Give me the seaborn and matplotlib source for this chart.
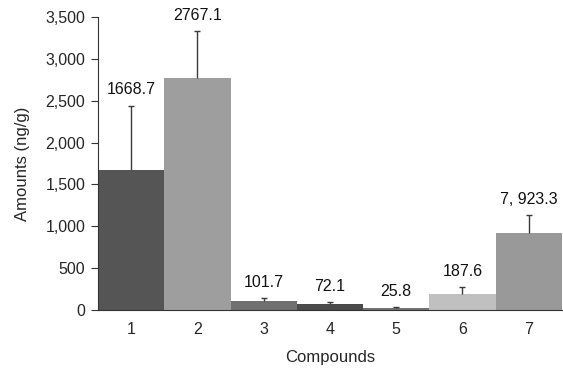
import seaborn as sns
import matplotlib.pyplot as plt
import matplotlib.ticker as mticker
import pandas as pd
import numpy as np

compounds = ['1', '2', '3', '4', '5', '6', '7']
amounts = [1668.7, 2767.1, 101.7, 72.1, 25.8, 187.6, 923.3]
errors = [770, 566, 36, 24, 10, 87, 212]
labels = ['1668.7', '2767.1', '101.7', '72.1', '25.8', '187.6', '7, 923.3']
colors = ['#555555', '#9e9e9e', '#707070', '#4a4a4a', '#747474', '#c0c0c0', '#999999']

sns.set_style('ticks')
plt.rcParams['font.family'] = ['Liberation Sans', 'DejaVu Sans']

df = pd.DataFrame({'Compounds': compounds, 'Amounts': amounts})

fig, ax = plt.subplots(figsize=(5.63, 3.69), dpi=100)
sns.barplot(data=df, x='Compounds', y='Amounts', hue='Compounds',
            palette=colors, width=1.0, legend=False, ax=ax, saturation=1,
            linewidth=0)

# upper error bars only
x = np.arange(len(compounds))
tops = np.array(amounts) + np.array(errors)
ax.vlines(x, amounts, tops, color='#3a3a3a', linewidth=1)
ax.plot(x, tops, linestyle='none', marker='_', markersize=5,
        markeredgewidth=1, color='#3a3a3a')

for xi, t, lab in zip(x, tops, labels):
    ax.text(xi, t + 100, lab, ha='center', va='bottom', fontsize=11.5, color='#111111')

ax.set_ylim(0, 3500)
ax.set_xlim(-0.5, 6.5)
ax.yaxis.set_major_locator(mticker.MultipleLocator(500))
ax.yaxis.set_major_formatter(mticker.StrMethodFormatter('{x:,.0f}'))
ax.tick_params(axis='y', labelsize=11.5, length=5, color='#333333', pad=4)
ax.tick_params(axis='x', labelsize=11.5, length=0, pad=9)
ax.set_ylabel('Amounts (ng/g)', fontsize=12, labelpad=11)
ax.set_xlabel('Compounds', fontsize=12, labelpad=9)
for s in ['top', 'right']:
    ax.spines[s].set_visible(False)
for s in ['left', 'bottom']:
    ax.spines[s].set_color('#333333')

fig.subplots_adjust(left=0.174, right=0.998, top=0.954, bottom=0.16)
fig.savefig('out.png', dpi=100)
